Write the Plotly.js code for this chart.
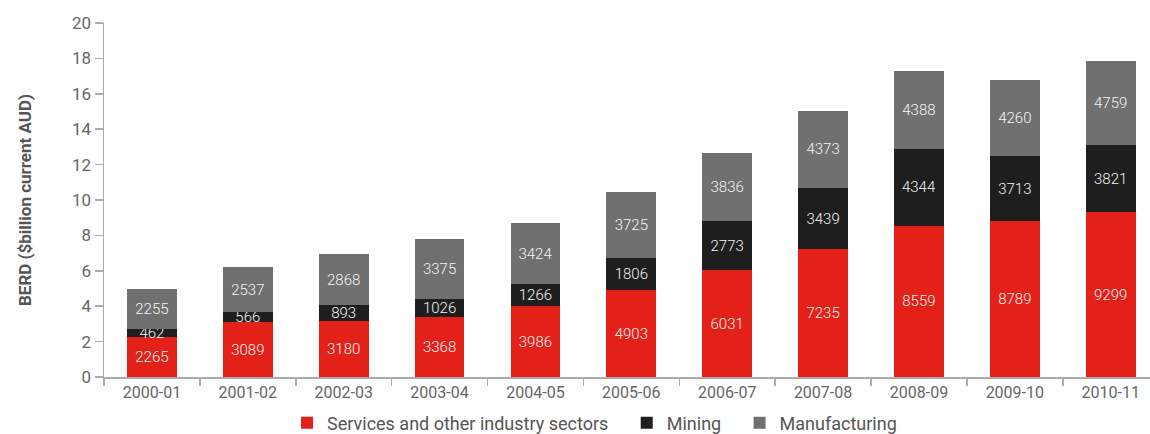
<!DOCTYPE html>
<html><head><meta charset="utf-8">
<script src="https://cdn.plot.ly/plotly-3.0.1.min.js"></script>
<style>body{margin:0;background:#fff}#c{width:1150px;height:434px}</style>
</head><body><div id="c"></div>
<script>
const years = ["2000-01","2001-02","2002-03","2003-04","2004-05","2005-06","2006-07","2007-08","2008-09","2009-10","2010-11"];
const services = [2265,3089,3180,3368,3986,4903,6031,7235,8559,8789,9299];
const mining = [462,566,893,1026,1266,1806,2773,3439,4344,3713,3821];
const manufacturing = [2255,2537,2868,3375,3424,3725,3836,4373,4388,4260,4759];
const yTicks = [0,2,4,6,8,10,12,14,16,18,20];
const pad = '\u00a0\u00a0\u00a0';

function tr(name, vals, color){
  return {type:'bar', name:name, x:years, y:vals.map(v=>v/1000), text:vals.map(String),
    textposition:'inside', insidetextanchor:'middle', textangle:0,
    textfont:{color:'#f4f4f4', size:15, family:'Roboto, sans-serif', weight:300},
    marker:{color:color, line:{width:0}}, hoverinfo:'none', cliponaxis:false};
}
const data = [
  tr('Services and other industry sectors' + pad, services, '#e32118'),
  tr('Mining' + pad, mining, '#1e1e1e'),
  tr('Manufacturing', manufacturing, '#707070')
];
const layout = {
  width:1150, height:434, barmode:'stack', bargap:0.48,
  margin:{l:104, r:0, t:23, b:57},
  paper_bgcolor:'#fff', plot_bgcolor:'#fff',
  font:{family:'Roboto, sans-serif', color:'#666'},
  uniformtext:{minsize:15, mode:'show'},
  xaxis:{type:'category', range:[-0.5,10.41], showline:true, linecolor:'#aaa', linewidth:1.5, automargin:false,
    ticks:'outside', tickson:'boundaries', ticklen:7, tickcolor:'#aaa', tickwidth:1.5,
    tickfont:{size:16, color:'#666'}, showgrid:false, fixedrange:true},
  yaxis:{range:[0,20], tickvals:yTicks, ticktext:yTicks.map(String), showline:true, linecolor:'#aaa', linewidth:1.5, automargin:false,
    ticks:'outside', ticklen:8, tickcolor:'#aaa', tickwidth:1.5, showgrid:false, zeroline:false,
    tickfont:{size:17, color:'#666'},
    title:{text:'<b>BERD ($billion current AUD)</b>', font:{size:17, color:'#555'}, standoff:36}},
  legend:{orientation:'h', x:0.517, xref:'container', xanchor:'center', y:0.025, yref:'container', yanchor:'middle',
    font:{size:18, color:'#555'}, itemwidth:30, tracegroupgap:0, traceorder:'normal'},
  showlegend:true
};
Plotly.newPlot('c', data, layout, {displayModeBar:false, staticPlot:true});
</script></body></html>
